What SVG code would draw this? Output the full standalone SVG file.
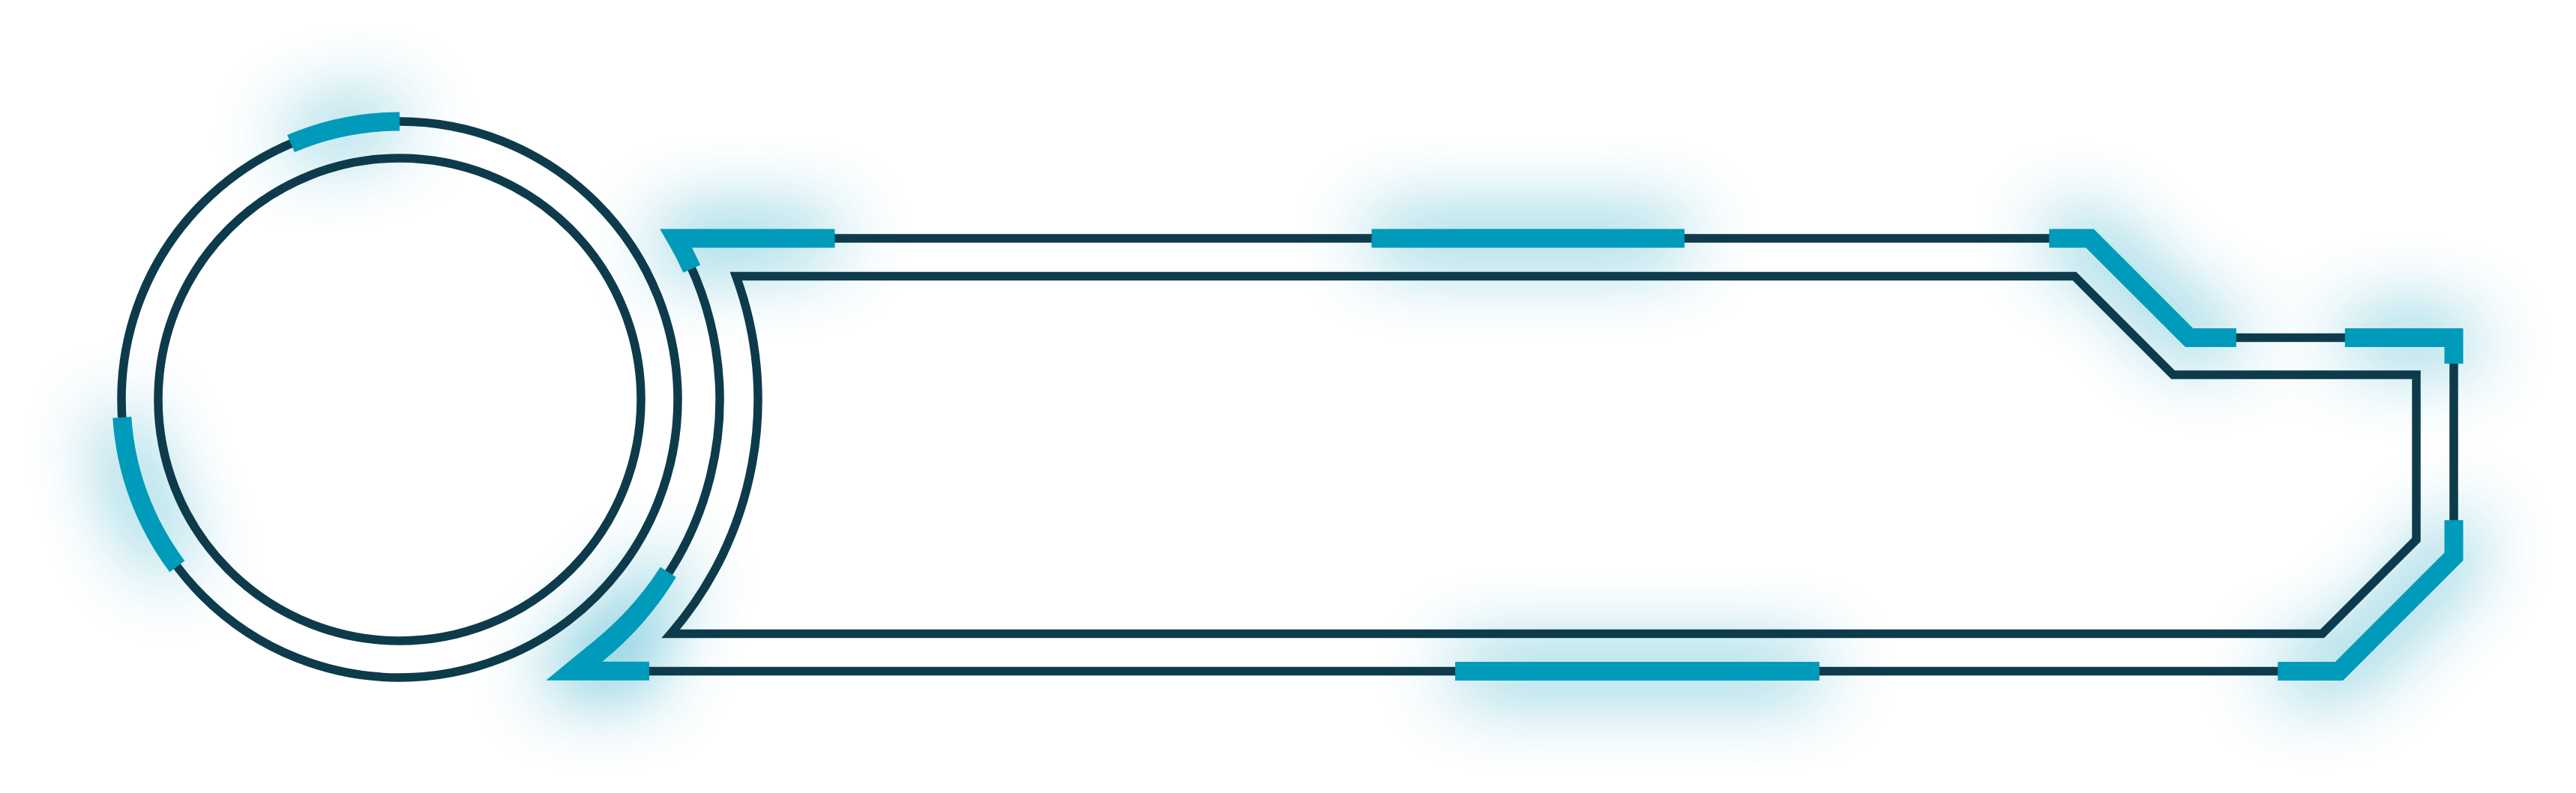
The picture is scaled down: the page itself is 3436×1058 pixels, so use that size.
<svg xmlns="http://www.w3.org/2000/svg" width="3436" height="1058" viewBox="0 0 3436 1058">
  <defs>
    <filter id="glow" filterUnits="userSpaceOnUse" x="0" y="0" width="3436" height="1058">
      <feGaussianBlur stdDeviation="52"/>
    </filter>
    <style>
      .dark { fill: none; stroke: #0d3b4b; stroke-width: 11.5; stroke-linejoin: miter; stroke-miterlimit: 10; }
      .cyan { fill: none; stroke: #009aba; stroke-width: 25; stroke-linecap: butt; stroke-linejoin: miter; stroke-miterlimit: 10; }
      .cyanfill { fill: #009aba; stroke: none; }
      .glowline { fill: none; stroke: #009aba; stroke-width: 40; stroke-linejoin: round; }
      .glowfill { fill: #009aba; stroke: #009aba; stroke-width: 16; stroke-linejoin: round; }
    </style>
  </defs>
  <rect width="3436" height="1058" fill="#ffffff"/>

  <!-- glow layer -->
  <g id="glow-layer" filter="url(#glow)" opacity="0.8">
    <path class="glowline" d="M 388,191.5 A 371 371 0 0 1 533,162"/>
    <path class="glowline" d="M 162.8,556.9 A 371 371 0 0 0 236.3,755.7"/>
    <path class="glowline" d="M 1113.5,318 H 901.9 A 427 427 0 0 1 922.8,358.6"/>
    <path class="glowline" d="M 1829.5,318 H 2246.9"/>
    <path class="glowline" d="M 2733.3,318 H 2787.5 L 2920.1,450.6 H 2982.8"/>
    <path class="glowline" d="M 3127.8,450.6 H 3273 V 485.2"/>
    <path class="glowline" d="M 3273,694 V 742.5 L 3120,895.5 H 3038.3"/>
    <path class="glowline" d="M 1941,895.5 H 2426.8"/>
    <path class="glowfill" d="M 880.8,756.5 A 413.5 413.5 0 0 1 795.6,852.4 L 728.3,907.7 H 866 V 882.7 H 803.3 A 438.5 438.5 0 0 0 901.9,770 Z"/>
  </g>

  <!-- dark outlines -->
  <g id="rings">
    <circle class="dark" cx="533" cy="533" r="371"/>
    <circle class="dark" cx="533" cy="533" r="322"/>
  </g>
  <g id="outer-frame">
    <path class="dark" d="M 901.9,318 H 2787.5 L 2920.1,450.6 H 3273 V 742.5 L 3120,895.5 H 758.7 A 427 427 0 0 0 901.9,318 Z"/>
  </g>
  <g id="inner-frame">
    <path class="dark" d="M 981.8,368.5 H 2767 L 2898.5,500 H 3223 V 720 L 3097.6,845.4 H 894.8 A 478 478 0 0 0 981.8,368.5 Z"/>
  </g>

  <!-- cyan accents -->
  <g id="accents">
    <path class="cyan" d="M 388,191.5 A 371 371 0 0 1 533,162"/>
    <path class="cyan" d="M 162.8,556.9 A 371 371 0 0 0 236.3,755.7"/>
    <path class="cyan" d="M 1113.5,318 H 901.9 A 427 427 0 0 1 922.8,358.6"/>
    <path class="cyan" d="M 1829.5,318 H 2246.9"/>
    <path class="cyan" d="M 2733.3,318 H 2787.5 L 2920.1,450.6 H 2982.8"/>
    <path class="cyan" d="M 3127.8,450.6 H 3273 V 485.2"/>
    <path class="cyan" d="M 3273,694 V 742.5 L 3120,895.5 H 3038.3"/>
    <path class="cyan" d="M 1941,895.5 H 2426.8"/>
    <path class="cyanfill" d="M 880.8,756.5 A 413.5 413.5 0 0 1 795.6,852.4 L 728.3,907.7 H 866 V 882.7 H 803.3 A 438.5 438.5 0 0 0 901.9,770 Z"/>
  </g>
</svg>
